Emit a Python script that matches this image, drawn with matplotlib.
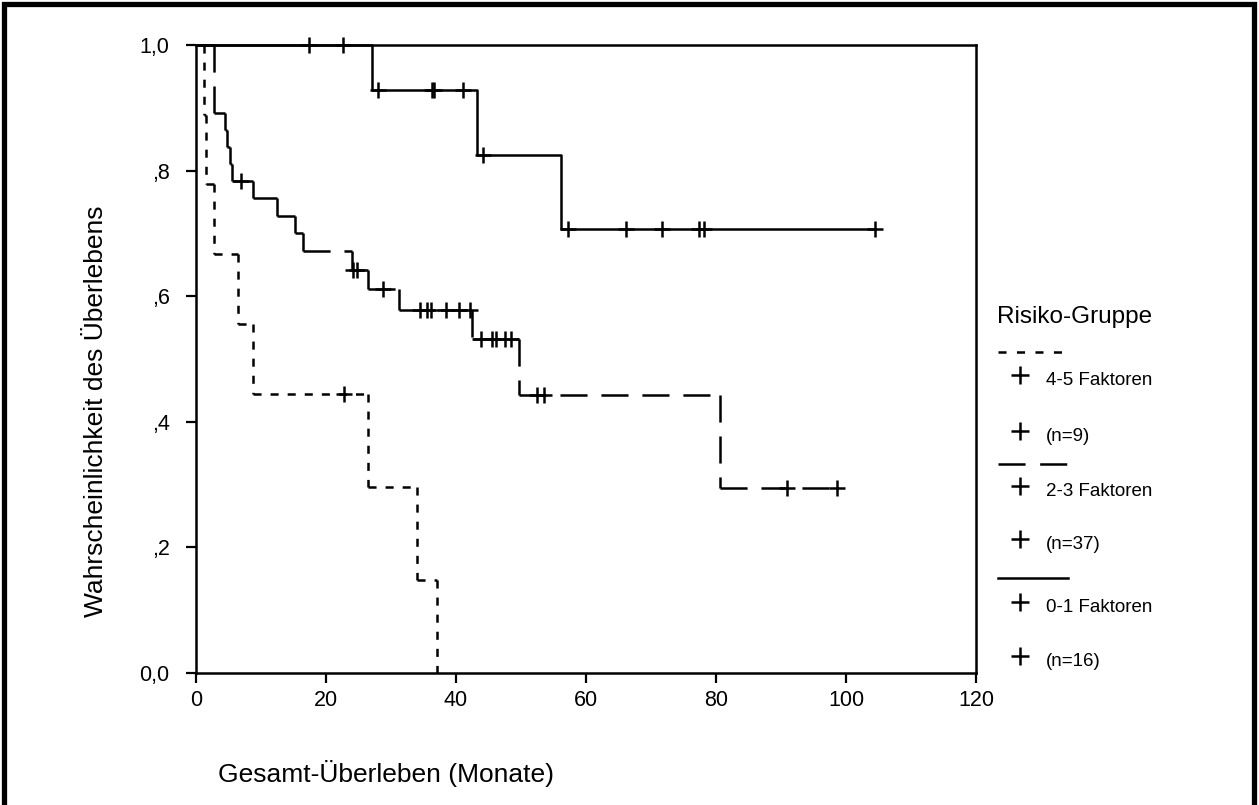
import numpy as np
import matplotlib
matplotlib.use("Agg")
import matplotlib.pyplot as plt
from matplotlib.lines import Line2D
from matplotlib.patches import Rectangle

plt.rcParams['font.family'] = ['Liberation Sans', 'DejaVu Sans']
plt.rcParams['lines.scale_dashes'] = False

# Kaplan-Meier data (months, survival after each event)
t_45 = [0, 1.2, 1.5, 2.8, 6.5, 8.8, 26.5, 34.0, 37.0]
s_45 = [1.0, 0.889, 0.778, 0.667, 0.556, 0.444, 0.296, 0.148, 0.0]
c_45 = [22.8]
end_45 = 37.0

t_23 = [0, 2.8, 4.5, 4.8, 5.2, 5.6, 8.8, 12.5, 15.3, 16.5, 24.0, 26.5, 31.3, 42.5, 49.7, 80.6]
s_23 = [1.0, 0.892, 0.865, 0.838, 0.811, 0.784, 0.756, 0.728, 0.700, 0.672, 0.642, 0.611,
        0.578, 0.532, 0.443, 0.295]
c_23 = [6.9, 24.2, 24.8, 28.8, 34.5, 35.6, 36.1, 38.5, 40.5, 42.1, 43.9, 45.6, 46.1,
        47.6, 48.4, 52.5, 53.6, 90.9, 98.6]
end_23 = 98.8

t_01 = [0, 27.0, 43.3, 56.1]
s_01 = [1.0, 0.929, 0.825, 0.707]
c_01 = [17.4, 22.6, 28.0, 36.3, 36.6, 41.0, 44.1, 57.3, 66.2, 71.7, 77.4, 78.1, 104.4]
end_01 = 104.4

x_ticks = [0, 20, 40, 60, 80, 100, 120]
y_ticks = [0.0, 0.2, 0.4, 0.6, 0.8, 1.0]
y_labels = ['0,0', ',2', ',4', ',6', ',8', '1,0']

legend_title = 'Risiko-Gruppe'
legend_rows = ['4-5 Faktoren', '(n=9)', '2-3 Faktoren', '(n=37)', '0-1 Faktoren', '(n=16)']

W, H = 1259, 805
def fx(p):
    return p / W
def fy(p):
    return 1 - p / H

SHORT = (0, (5.8, 6.5))
LONG = (0, (19.5, 10.0))
LW = 1.8


def step_path(t, s, end):
    xs, ys = [t[0]], [s[0]]
    for i in range(1, len(t)):
        xs += [t[i], t[i]]
        ys += [s[i - 1], s[i]]
    if end > t[-1]:
        xs.append(end)
        ys.append(s[-1])
    return xs, ys


def surv_at(t, s, c):
    idx = np.searchsorted(np.array(t), np.array(c), side='right') - 1
    return np.array(s)[idx]


def draw_group(ax, t, s, c, end, ls):
    xs, ys = step_path(t, s, end)
    if ls == '-':
        ax.plot(xs, ys, color='black', lw=LW, clip_on=False)
    else:
        # dash pattern restarts on every segment
        for i in range(len(xs) - 1):
            ax.plot(xs[i:i + 2], ys[i:i + 2], color='black', lw=LW, ls=ls, clip_on=False)
    ax.plot(c, surv_at(t, s, c), '+', color='black', ms=11, mew=1.8, clip_on=False)


fig = plt.figure(figsize=(12.59, 8.05), dpi=100)
ax = fig.add_axes([fx(196), fy(673), fx(976) - fx(196), fy(45) - fy(673)])

draw_group(ax, t_45, s_45, c_45, end_45, SHORT)
draw_group(ax, t_23, s_23, c_23, end_23, LONG)
draw_group(ax, t_01, s_01, c_01, end_01, '-')

ax.set_xlim(0, 120)
ax.set_ylim(0, 1.0)
ax.set_xticks(x_ticks)
ax.set_xticklabels([str(v) for v in x_ticks])
ax.set_yticks(y_ticks)
ax.set_yticklabels(y_labels)
ax.tick_params(axis='both', direction='out', length=7, width=1.6, labelsize=15.5, colors='black')
ax.tick_params(axis='x', pad=5)
ax.tick_params(axis='y', pad=12)
for sp in ax.spines.values():
    sp.set_linewidth(1.8)

fig.text(fx(96), fy(411), 'Wahrscheinlichkeit des Überlebens', rotation=90,
         ha='center', va='center', fontsize=19)
fig.text(fx(218), fy(773), 'Gesamt-Überleben (Monate)', ha='left', va='center', fontsize=19)

# legend drawn by hand
fig.text(fx(997), fy(317), legend_title, ha='left', va='center', fontsize=17.5)
line_y = [352, 464, 578]
styles = [(0, (5.8, 7.5)), (0, (19.5, 10.5)), '-']
for y, st in zip(line_y, styles):
    fig.add_artist(Line2D([fx(998), fx(1068)], [fy(y), fy(y)], transform=fig.transFigure,
                          color='black', lw=LW, ls=st))
row_y = [378, 434, 489, 542, 605, 659]
for y, txt in zip(row_y, legend_rows):
    fig.add_artist(Line2D([fx(1020)], [fy(y - 3)], transform=fig.transFigure, marker='+',
                          ms=13, mew=1.8, color='black', ls='none'))
    fig.text(fx(1046), fy(y + 2), txt, ha='left', va='center', fontsize=13.5)

# outer frame
fig.add_artist(Rectangle((fx(4), -0.2), fx(1254) - fx(4), fy(4) + 0.2,
                         transform=fig.transFigure, fill=False, ec='black', lw=3.8))

fig.savefig('out.png', dpi=100)
